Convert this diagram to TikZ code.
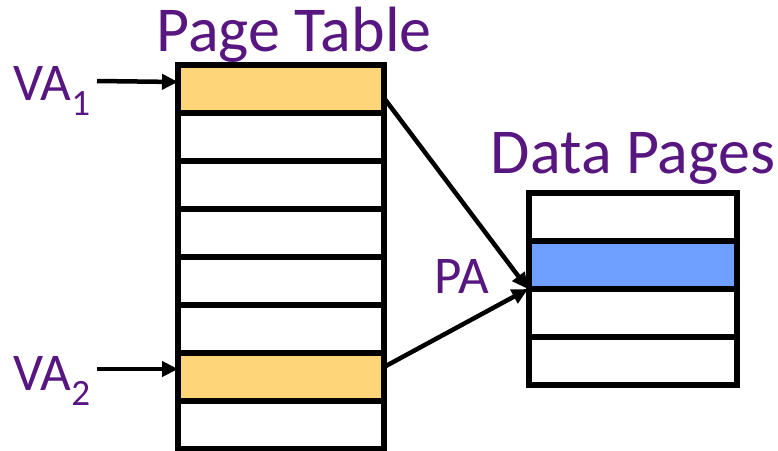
\documentclass[tikz,border=0pt]{standalone}
\usepackage{fontspec}
\setmainfont{Carlito}
\usetikzlibrary{arrows.meta}
\usetikzlibrary{positioning}
\definecolor{ptorange}{RGB}{255, 213, 121}
\definecolor{dpblue}{RGB}{112, 160, 255}
\definecolor{titlepurple}{RGB}{88, 22, 128}
\tikzset{
  entry/.style={draw=black, line width=5.5pt, minimum width=206pt, minimum height=48pt,
                inner sep=0pt, outer sep=0pt},
  title/.style={text=titlepurple, anchor=base, inner sep=0pt, font=\fontsize{64}{76}\selectfont},
  addr/.style={text=titlepurple, anchor=base west, inner sep=0pt, font=\fontsize{53}{64}\selectfont},
  ptr/.style={line width=4.5pt, -{Triangle[length=16pt, width=15pt]}}
}
\begin{document}
\begin{tikzpicture}[x=1pt, y=-1pt]
            \useasboundingbox (0,0) rectangle (778,450);
            \foreach \i/\c in {1/ptorange, 2/white, 3/white, 4/white, 5/white, 6/white, 7/ptorange, 8/white}
                 \node[entry, fill=\c] (pt\i) at (281, {89+48*(\i-1)}) {};
            \foreach \i/\c in {1/white, 2/dpblue, 3/white, 4/white}
                 \node[entry, fill=\c, minimum width=208pt] (dp\i) at (633, {217+48*(\i-1)}) {};
            \node[title] (pttitle) at (294, 51)  {Page Table};
            \node[title] (dptitle) at (633, 173) {Data Pages};
            \node[addr]  (va1)     at (13, 100)  {VA\textsubscript{1}};
            \node[addr]  (va2)     at (13, 390)  {VA\textsubscript{2}};
            \node[addr, anchor=base] (pa) at (462, 293) {PA};
            \draw[ptr] (97, 81)  -- ([yshift=7pt]pt1.west);
            \draw[ptr] (97, 369) -- ([yshift=8pt]pt7.west);
            \draw[ptr] ([yshift=-9pt]pt1.east)  -- ([xshift=-1pt]dp2.south west);
            \draw[ptr] ([yshift=10pt]pt7.east)  -- ([xshift=-1pt]dp2.south west);
        \end{tikzpicture}
\end{document}
